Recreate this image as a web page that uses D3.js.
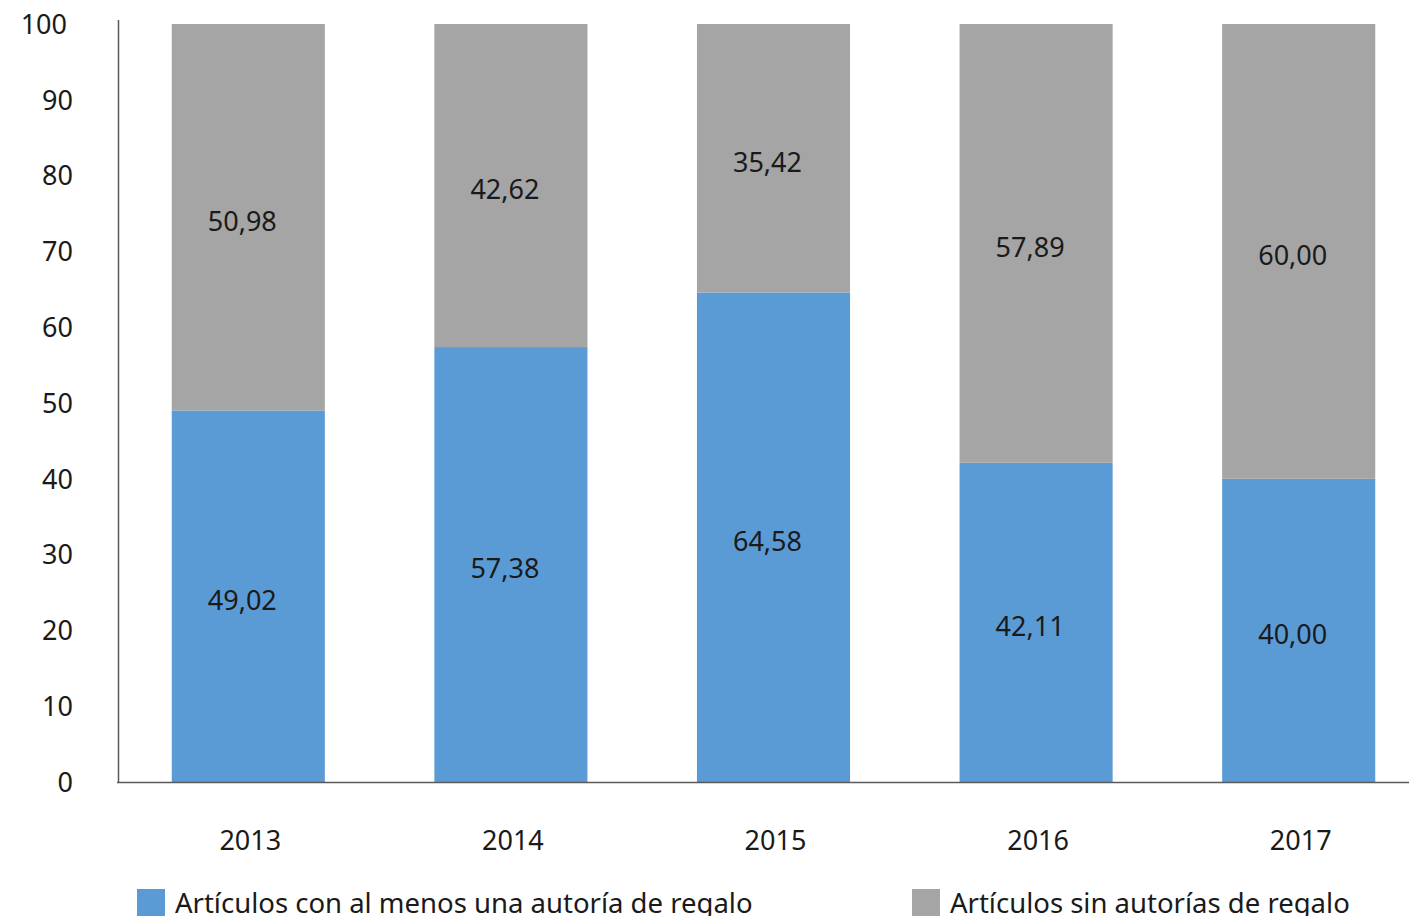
<!DOCTYPE html>
<html>
<head>
<meta charset="utf-8">
<script src="https://cdn.jsdelivr.net/npm/d3@7"></script>
<style>
  html, body { margin: 0; padding: 0; background: #fff; }
  svg { display: block; font-family: 'Noto Sans', sans-serif; }
  .tick-label { font-size: 27px; fill: #1a1a1a; }
  .value-label { font-size: 27px; fill: #1a1a1a; }
  .legend-label { font-size: 27.5px; fill: #1a1a1a; }
</style>
</head>
<body>
<svg id="chart" width="1409" height="916"></svg>
<script>
const years = ['2013', '2014', '2015', '2016', '2017']
const conRegalo = [49.02, 57.38, 64.58, 42.11, 40.00]
const sinRegalo = [50.98, 42.62, 35.42, 57.89, 60.00]
const yTicks = [0, 10, 20, 30, 40, 50, 60, 70, 80, 90, 100]
const seriesNames = ['Artículos con al menos una autoría de regalo', 'Artículos sin autorías de regalo']
const colors = ['#5b9bd5', '#a5a5a5']

const fmt = (v) => v.toFixed(2).replace('.', ',')

const svg = d3.select('#chart')

const x = d3.scaleBand().domain(years).range([117, 1430]).paddingInner(0.417).paddingOuter(0.2085)
const y = d3.scaleLinear().domain([0, 100]).range([782, 24])

const rows = years.map((yr, i) => ({ year: yr, a: conRegalo[i], b: sinRegalo[i] }))

// bars
const barG = svg.append('g')
rows.forEach((d) => {
  barG.append('rect')
    .attr('x', x(d.year)).attr('width', x.bandwidth())
    .attr('y', y(d.a)).attr('height', y(0) - y(d.a))
    .attr('fill', colors[0])
  barG.append('rect')
    .attr('x', x(d.year)).attr('width', x.bandwidth())
    .attr('y', y(d.a + d.b)).attr('height', y(d.a) - y(d.a + d.b))
    .attr('fill', colors[1])
})

// value labels
const labG = svg.append('g').attr('text-anchor', 'middle')
rows.forEach((d) => {
  const cx = x(d.year) + x.bandwidth() / 2 - 6
  labG.append('text').attr('class', 'value-label')
    .attr('x', cx).attr('y', y(d.a / 2) + 4).attr('dy', '0.36em').text(fmt(d.a))
  labG.append('text').attr('class', 'value-label')
    .attr('x', cx).attr('y', y(d.a + d.b / 2) + 4).attr('dy', '0.36em').text(fmt(d.b))
})

// axes lines
svg.append('line')
  .attr('x1', 118.5).attr('x2', 118.5).attr('y1', 20).attr('y2', y(0))
  .attr('stroke', '#595959').attr('stroke-width', 1.5)
svg.append('line')
  .attr('x1', 117).attr('x2', 1409).attr('y1', y(0) + 0.5).attr('y2', y(0) + 0.5)
  .attr('stroke', '#595959').attr('stroke-width', 1.5)

// y tick labels
svg.append('g').attr('text-anchor', 'end')
  .selectAll('text').data(yTicks).join('text')
  .attr('class', 'tick-label')
  .attr('x', (d) => (d === 100 ? 67 : 73)).attr('y', (d) => y(d)).attr('dy', '0.36em')
  .text((d) => d)

// x labels
svg.append('g').attr('text-anchor', 'middle')
  .selectAll('text').data(years).join('text')
  .attr('class', 'tick-label')
  .attr('x', (d) => x(d) + x.bandwidth() / 2 + 2).attr('y', 840).attr('dy', '0.36em')
  .text((d) => d)

// legend
const legendX = [137, 912]
seriesNames.forEach((name, i) => {
  const lg = svg.append('g').attr('transform', `translate(${legendX[i]},889)`)
  lg.append('rect').attr('width', 28).attr('height', 28).attr('fill', colors[i])
  lg.append('text').attr('class', 'legend-label')
    .attr('x', 38).attr('y', 14).attr('dy', '0.36em').text(name)
})
</script>
</body>
</html>
